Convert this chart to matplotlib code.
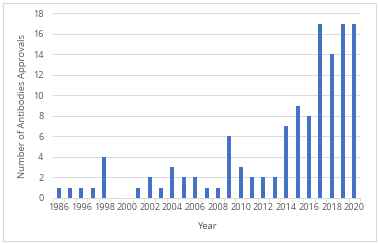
import matplotlib
matplotlib.use("Agg")
import matplotlib.pyplot as plt
from matplotlib.patches import Rectangle

years = ["1986", "1994", "1996", "1997", "1998", "1999", "2000", "2001", "2002",
         "2003", "2004", "2005", "2006", "2007", "2008", "2009", "2010", "2011",
         "2012", "2013", "2014", "2015", "2016", "2017", "2018", "2019", "2020"]
approvals = [1, 1, 1, 1, 4, 0, 0, 1, 2, 1, 3, 2, 2, 1, 1, 6, 3, 2, 2, 2,
             7, 9, 8, 17, 14, 17, 17]
y_ticks = [0, 2, 4, 6, 8, 10, 12, 14, 16, 18]

plt.rcParams['font.family'] = ['Open Sans', 'DejaVu Sans']
txt = '#595959'
grid = '#D9D9D9'

fig = plt.figure(figsize=(3.79, 2.44), dpi=100)
fig.patches.append(Rectangle((0.008, 0.012), 0.984, 0.975, transform=fig.transFigure,
                             fill=False, edgecolor=grid, linewidth=0.8))
ax = fig.add_axes([0.140, 0.189, 0.810, 0.756])

x = list(range(len(years)))
ax.bar(x, approvals, width=0.35, color='#4472C4', zorder=3)

ax.set_xlim(-0.5, len(years) - 0.5)
ax.set_ylim(0, 18)
ax.set_yticks(y_ticks)
ax.set_xticks(x[::2])
ax.set_xticklabels(years[::2])
ax.set_xticks([i - 0.5 for i in range(len(years) + 1)], minor=True)
ax.tick_params(axis='x', which='major', length=0, labelsize=6.6, colors=txt, pad=4)
ax.tick_params(axis='x', which='minor', length=3, color=grid, width=0.6)
ax.tick_params(axis='y', length=0, labelsize=6.6, colors=txt, pad=7)

ax.grid(axis='y', color=grid, linewidth=0.7, zorder=0)
for s in ['top', 'right', 'left']:
    ax.spines[s].set_visible(False)
ax.spines['bottom'].set_color(grid)
ax.spines['bottom'].set_linewidth(0.7)

ax.set_xlabel('Year', fontsize=6.8, color=txt, labelpad=7)
ax.set_ylabel('Number of Antibodies Approvals', fontsize=6.8, color=txt, labelpad=4)

fig.savefig('out.png', dpi=100)
